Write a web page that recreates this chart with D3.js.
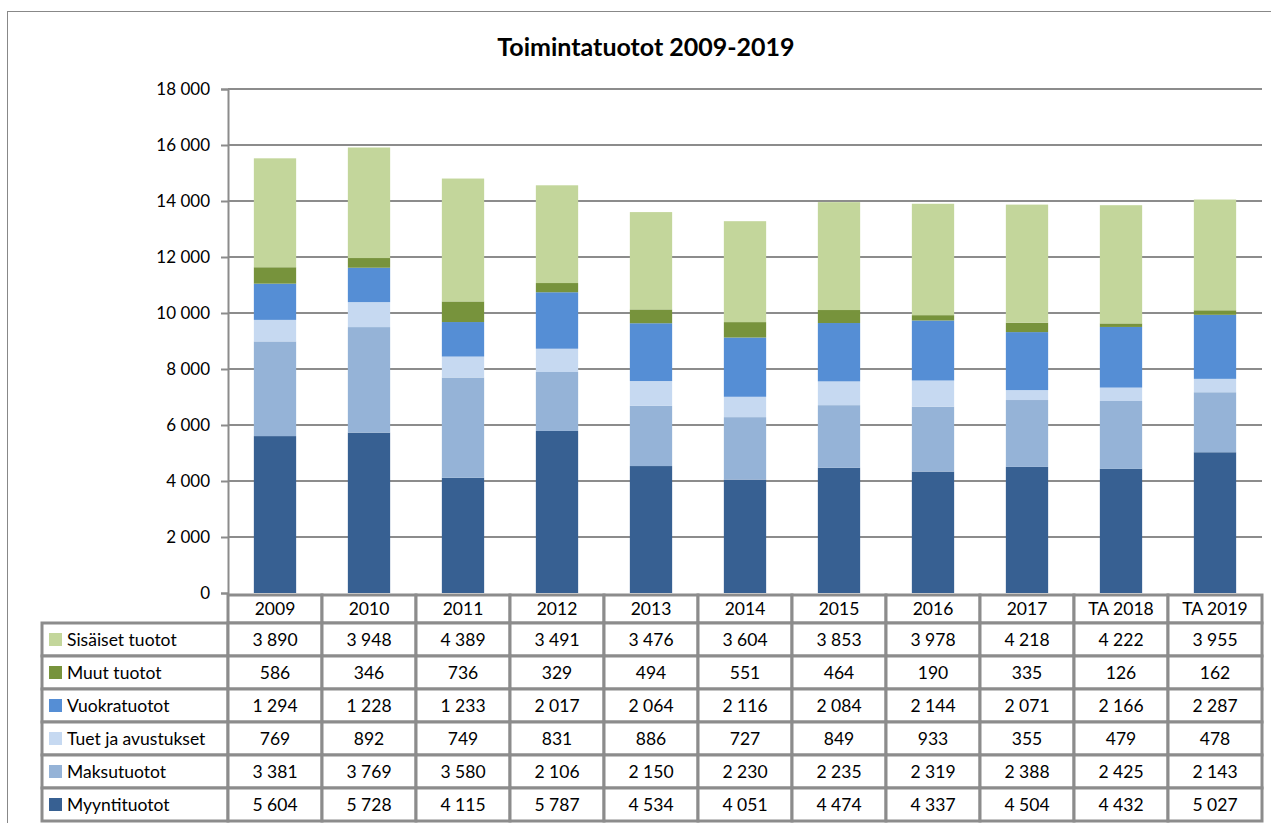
<!DOCTYPE html>
<html>
<head>
<meta charset="utf-8">
<script src="https://cdn.jsdelivr.net/npm/d3@7"></script>
<style>
  body { margin: 0; background: #fff; }
  text { font-family: Lato, "Open Sans", sans-serif; }
</style>
</head>
<body>
<div id="chart"></div>
<script>
// data
const years = ["2009", "2010", "2011", "2012", "2013", "2014", "2015", "2016", "2017", "TA 2018", "TA 2019"];
const seriesNames = ["Myyntituotot", "Maksutuotot", "Tuet ja avustukset", "Vuokratuotot", "Muut tuotot", "Sisäiset tuotot"];
const myyntituotot = [5604, 5728, 4115, 5787, 4534, 4051, 4474, 4337, 4504, 4432, 5027];
const maksutuotot = [3381, 3769, 3580, 2106, 2150, 2230, 2235, 2319, 2388, 2425, 2143];
const tuet = [769, 892, 749, 831, 886, 727, 849, 933, 355, 479, 478];
const vuokratuotot = [1294, 1228, 1233, 2017, 2064, 2116, 2084, 2144, 2071, 2166, 2287];
const muut = [586, 346, 736, 329, 494, 551, 464, 190, 335, 126, 162];
const sisaiset = [3890, 3948, 4389, 3491, 3476, 3604, 3853, 3978, 4218, 4222, 3955];
const yTicks = [0, 2000, 4000, 6000, 8000, 10000, 12000, 14000, 16000, 18000];

const seriesValues = [myyntituotot, maksutuotot, tuet, vuokratuotot, muut, sisaiset];
const colors = ["#376092", "#95b3d7", "#c6d9f1", "#558ed5", "#77933c", "#c3d69b"];

const W = 1271, H = 823;
const plotLeft = 228, plotRight = 1262, plotTop = 89, plotBottom = 593;

const svg = d3.select("#chart").append("svg")
  .attr("width", W).attr("height", H);

// outer frame
svg.append("rect")
  .attr("x", 7.5).attr("y", 11.5).attr("width", W).attr("height", H)
  .attr("fill", "none").attr("stroke", "#888").attr("stroke-width", 1);

svg.append("text")
  .attr("x", 646).attr("y", 56)
  .attr("text-anchor", "middle")
  .attr("font-size", 25).attr("font-weight", "bold")
  .text("Toimintatuotot 2009-2019");

const x = d3.scaleBand().domain(years).range([plotLeft, plotRight]);
const y = d3.scaleLinear().domain([0, 18000]).range([plotBottom, plotTop]);

// gridlines
svg.append("g")
  .selectAll("line")
  .data(yTicks.slice(1))
  .join("line")
  .attr("x1", plotLeft).attr("x2", plotRight)
  .attr("y1", d => y(d)).attr("y2", d => y(d))
  .attr("stroke", "#8c8c8c").attr("stroke-width", 2);

// y axis
const fmt = d => d3.format(",")(d).replace(/,/g, " ");
const yAxis = svg.append("g")
  .attr("transform", `translate(${plotLeft},0)`)
  .call(d3.axisLeft(y).tickValues(yTicks).tickFormat(fmt).tickSize(7).tickPadding(11));
yAxis.select(".domain").attr("stroke", "#8c8c8c").attr("stroke-width", 2);
yAxis.selectAll(".tick line").attr("stroke", "#8c8c8c").attr("stroke-width", 2);
yAxis.selectAll(".tick text").attr("font-size", 17).attr("fill", "#000")
  .attr("font-family", "Lato, sans-serif");

// stacked bars
const rows = years.map((yr, i) => {
  const r = { year: yr };
  seriesNames.forEach((s, j) => r[s] = seriesValues[j][i]);
  return r;
});
const stacked = d3.stack().keys(seriesNames)(rows);
const barW = x.bandwidth() * 0.45;

svg.append("g")
  .selectAll("g")
  .data(stacked)
  .join("g")
  .attr("fill", (d, i) => colors[i])
  .selectAll("rect")
  .data(d => d)
  .join("rect")
  .attr("x", d => x(d.data.year) + (x.bandwidth() - barW) / 2)
  .attr("width", barW)
  .attr("y", d => y(d[1]))
  .attr("height", d => y(d[0]) - y(d[1]));

// data table
const headTop = 595, rowH = 33, headH = 28, firstRowTop = 623;
const labelLeft = 42;
const table = svg.append("g");
const gridStroke = "#8c8c8c";

// header cells
table.selectAll(".hcell")
  .data(years)
  .join("rect")
  .attr("x", d => x(d)).attr("y", headTop)
  .attr("width", x.bandwidth()).attr("height", headH)
  .attr("fill", "#fff").attr("stroke", gridStroke).attr("stroke-width", 3);
table.selectAll(".htext")
  .data(years)
  .join("text")
  .attr("x", d => x(d) + x.bandwidth() / 2)
  .attr("y", headTop + 20)
  .attr("text-anchor", "middle").attr("font-size", 17.5)
  .text(d => d);

const tableOrder = seriesNames.map((s, i) => i).reverse();
tableOrder.forEach((si, r) => {
  const top0 = firstRowTop + r * rowH;
  table.append("rect")
    .attr("x", labelLeft).attr("y", top0)
    .attr("width", plotLeft - labelLeft).attr("height", rowH)
    .attr("fill", "#fff").attr("stroke", gridStroke).attr("stroke-width", 3);
  table.append("rect")
    .attr("x", labelLeft + 7).attr("y", top0 + 10)
    .attr("width", 13).attr("height", 13)
    .attr("fill", colors[si]);
  table.append("text")
    .attr("x", labelLeft + 25).attr("y", top0 + 23)
    .attr("font-size", 17.5)
    .text(seriesNames[si]);
  years.forEach((yr, i) => {
    table.append("rect")
      .attr("x", x(yr)).attr("y", top0)
      .attr("width", x.bandwidth()).attr("height", rowH)
      .attr("fill", "#fff").attr("stroke", gridStroke).attr("stroke-width", 3);
    table.append("text")
      .attr("x", x(yr) + x.bandwidth() / 2).attr("y", top0 + 23)
      .attr("text-anchor", "middle").attr("font-size", 17.5)
      .text(fmt(seriesValues[si][i]));
  });
});
</script>
</body>
</html>
